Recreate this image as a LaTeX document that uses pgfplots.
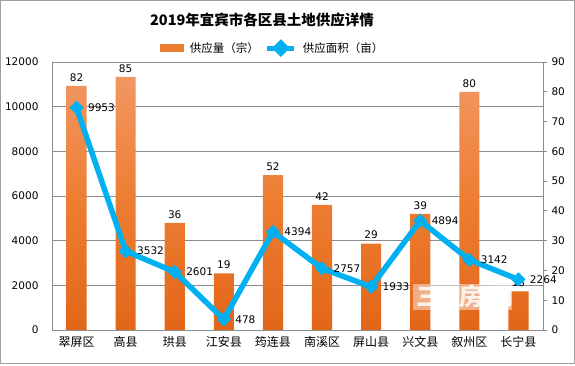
\documentclass[border=0pt]{standalone}
\usepackage{fontspec}
\setmainfont{DejaVu Sans}
\newfontfamily\cjk{Noto Sans CJK SC}
\usepackage{pgfplots}
\pgfplotsset{compat=1.18}
\definecolor{barA}{HTML}{F29662}
\definecolor{barB}{HTML}{E2661A}
\definecolor{barM}{HTML}{ED7D31}
\definecolor{lineC}{HTML}{00B0F0}
\definecolor{gridc}{HTML}{8C8C8C}
\begin{document}
\begin{tikzpicture}
\useasboundingbox (0,0) rectangle (575pt,365pt);
\draw[gray!75, line width=1pt] (0.5pt,2pt) rectangle (574.5pt,364.5pt);
\begin{axis}[
  at={(52pt,35pt)}, anchor=south west,
  scale only axis, width=491pt, height=268pt,
  xmin=-0.5, xmax=9.5, ymin=0, ymax=90,
  axis x line=none, axis y line*=right,
  y axis line style={gridc, line width=0.8pt, -},
  ytick={0,10,...,90},
  tick align=outside, major tick length=4pt,
  every tick/.style={gridc, line width=0.8pt},
  yticklabel style={font=\fontsize{10.5}{12}\selectfont, anchor=west, xshift=1pt},
  /pgf/number format/assume math mode=true,
  extra y ticks={15,30,45,60,75,90},
  extra y tick labels={},
  extra y tick style={grid=major, major tick length=0pt},
  major grid style={gridc, line width=0.8pt},
  clip=false,
]
\addplot[ybar, bar width=0.41, draw=none, top color=barA, bottom color=barB, middle color=barM,
  nodes near coords, nodes near coords style={font=\fontsize{10.5}{12}\selectfont, text=black, anchor=south, yshift=1pt}]
coordinates {(0,82) (1,85) (2,36) (3,19) (4,52) (5,42) (6,29) (7,39) (8,80) (9,13)};
\end{axis}
\begin{axis}[
  at={(52pt,35pt)}, anchor=south west,
  scale only axis, width=491pt, height=268pt,
  xmin=-0.5, xmax=9.5, ymin=0, ymax=12000,
  axis x line*=bottom, axis y line*=left,
  axis line style={gridc, line width=0.8pt, -},
  xtick={0,...,9},
  xticklabels={翠屏区,高县,珙县,江安县,筠连县,南溪区,屏山县,兴文县,叙州区,长宁县},
  xticklabel style={font=\cjk\fontsize{12}{14}\selectfont, yshift=-3pt},
  ytick={0,2000,...,12000},
  scaled ticks=false,
  /pgf/number format/1000 sep={},
  /pgf/number format/assume math mode=true,
  yticklabel style={font=\fontsize{10.5}{12}\selectfont, xshift=-10pt},
  major tick length=0pt,
  clip=false,
  legend style={at={(0.45,1.052)}, anchor=center, draw=none, fill=none, legend columns=2,
    font=\cjk\fontsize{11.5}{13}\selectfont, column sep=4pt, inner sep=0pt},
]
\addlegendimage{legend image code/.code={\fill[barM] (0pt,-3.5pt) rectangle (23pt,3.5pt);}}
\addlegendentry{供应量（宗）}
\addplot[lineC, line width=5.5pt, mark=square*, mark size=4.8pt,
  mark options={rotate=45, line width=0.4pt, fill=lineC, draw=lineC},
  point meta=explicit symbolic,
  nodes near coords, nodes near coords style={font=\fontsize{10.5}{12}\selectfont, text=black, anchor=west, xshift=8pt},
  legend image code/.code={\draw[lineC, line width=5pt] (0pt,0pt) -- (27pt,0pt); \fill[lineC, rotate around={45:(13.5pt,0pt)}] (10pt,-3.5pt) rectangle (17pt,3.5pt);}]
coordinates {(0,9953) [9953] (1,3532) [3532] (2,2601) [2601] (3,478) [478] (4,4394) [4394]
  (5,2757) [2757] (6,1933) [1933] (7,4894) [4894] (8,3142) [3142] (9,2264) [2264]};
\addlegendentry{供应面积（亩）}
\end{axis}
\node at (262pt,345pt) {\cjk\bfseries\fontsize{14.5}{16}\selectfont 2019年宜宾市各区县土地供应详情};
\fill[white, opacity=0.45] (413pt,55pt) rectangle (512pt,81pt);
\node[text=white, opacity=0.85] at (428pt,68pt) {\cjk\bfseries\fontsize{24}{26}\selectfont 三};
\node[text=white, opacity=0.85] at (471pt,68pt) {\cjk\bfseries\fontsize{24}{26}\selectfont 房};
\node[text=white, opacity=0.85] at (501pt,68pt) {\cjk\bfseries\fontsize{24}{26}\selectfont 网};
\end{tikzpicture}
\end{document}
